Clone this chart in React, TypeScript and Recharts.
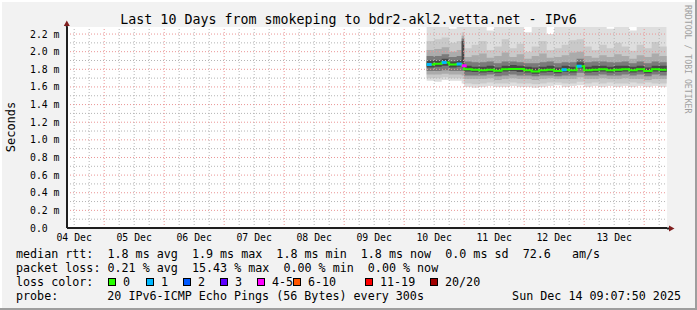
import React from "react";
import { ComposedChart, Area, Line, Scatter, XAxis, YAxis, ReferenceLine, CartesianGrid } from "recharts";

// time axis: hours since 04 Dec 00:00, window ends Sun Dec 14 09:07:50
const START_H = 9.131;
const END_H = 249.131;

const HOURS = [
  153, 156, 159, 162, 165, 167, 168, 171, 174, 177, 180, 183, 186, 189, 192, 195, 198,
  201, 204, 207, 210, 213, 216, 219, 222, 225, 228, 231, 234, 237, 240, 243, 246, 249,
];
// median rtt in ms
const MEDIAN = [
  1.855, 1.863, 1.878, 1.855, 1.86, 1.84, 1.8, 1.795, 1.79, 1.795, 1.785, 1.8, 1.805, 1.805,
  1.79, 1.775, 1.79, 1.795, 1.78, 1.795, 1.79, 1.835, 1.79, 1.795, 1.8, 1.79, 1.795, 1.8,
  1.79, 1.8, 1.78, 1.8, 1.795, 1.795,
];
// lost pings out of 20
const LOSS = [
  1, 0, 1, 0, 1, 4, 0, 0, 0, 0, 0, 0, 0, 0, 0, 0, 0, 0, 0, 1, 0, 1, 0, 0, 0, 0, 0, 0, 0, 0,
  0, 0, 0, 0,
];
// smoke: ping rtt spread per step (ms)
const P_MIN = [
  1.67, 1.66, 1.68, 1.67, 1.67, 1.64,
  1.6, 1.59, 1.6, 1.61, 1.6, 1.6, 1.61, 1.6, 1.6, 1.59, 1.6, 1.61, 1.62, 1.6, 1.61, 1.62,
  1.6, 1.61, 1.6, 1.61, 1.6, 1.61, 1.6, 1.61, 1.6, 1.61, 1.6, 1.6,
];
const P10 = [
  1.7, 1.7, 1.71, 1.7, 1.7, 1.69,
  1.64, 1.63, 1.64, 1.65, 1.64, 1.64, 1.65, 1.64, 1.64, 1.63, 1.64, 1.65, 1.65, 1.64, 1.64,
  1.66, 1.64, 1.65, 1.64, 1.65, 1.64, 1.64, 1.65, 1.64, 1.65, 1.64, 1.64, 1.64,
];
const P25 = [
  1.74, 1.74, 1.75, 1.74, 1.74, 1.73,
  1.69, 1.69, 1.69, 1.7, 1.68, 1.69, 1.7, 1.69, 1.69, 1.68, 1.69, 1.7, 1.69, 1.69, 1.69,
  1.71, 1.69, 1.69, 1.7, 1.69, 1.69, 1.7, 1.69, 1.69, 1.68, 1.69, 1.69, 1.69,
];
const P35 = [
  1.78, 1.78, 1.79, 1.78, 1.78, 1.78,
  1.73, 1.73, 1.73, 1.74, 1.72, 1.73, 1.74, 1.73, 1.73, 1.72, 1.73, 1.73, 1.72, 1.73, 1.73,
  1.76, 1.73, 1.73, 1.74, 1.73, 1.73, 1.74, 1.73, 1.74, 1.72, 1.74, 1.73, 1.73,
];
const P45 = [
  1.82, 1.83, 1.84, 1.82, 1.83, 1.82,
  1.775, 1.77, 1.765, 1.77, 1.76, 1.775, 1.78, 1.77, 1.765, 1.75, 1.765, 1.77, 1.755, 1.77,
  1.765, 1.81, 1.765, 1.77, 1.775, 1.765, 1.77, 1.775, 1.765, 1.775, 1.755, 1.775, 1.77, 1.77,
];
const P55 = [
  1.9, 1.9, 1.92, 1.89, 1.9, 2.12,
  1.84, 1.83, 1.83, 1.84, 1.82, 1.84, 1.85, 1.84, 1.83, 1.82, 1.83, 1.84, 1.82, 1.84, 1.83,
  1.88, 1.83, 1.84, 1.84, 1.83, 1.84, 1.84, 1.83, 1.84, 1.82, 1.84, 1.84, 1.84,
];
const P65 = [
  1.95, 1.95, 1.97, 1.94, 1.95, 2.15,
  1.89, 1.88, 1.88, 1.89, 1.87, 1.89, 1.89, 1.88, 1.87, 1.87, 1.88, 1.89, 1.87, 1.88, 1.88,
  1.92, 1.88, 1.89, 1.89, 1.88, 1.88, 1.89, 1.87, 1.89, 1.87, 1.89, 1.88, 1.88,
];
const P75 = [
  2.02, 2.03, 2.05, 2.0, 2.02, 2.18,
  1.94, 1.96, 1.98, 1.93, 1.95, 1.99, 1.94, 1.97, 1.92, 1.95, 1.98, 1.93, 1.94, 1.96, 1.99,
  2.0, 1.95, 1.93, 1.96, 1.94, 1.97, 1.95, 1.92, 1.96, 1.94, 1.98, 1.95, 1.95,
];
const P90 = [
  2.12, 2.14, 2.16, 2.1, 2.12, 2.22,
  2.04, 2.08, 2.12, 2.02, 2.06, 2.14, 2.04, 2.09, 2.0, 2.06, 2.12, 2.02, 2.04, 2.08, 2.13,
  2.14, 2.06, 2.02, 2.08, 2.04, 2.1, 2.06, 2.01, 2.08, 2.04, 2.11, 2.06, 2.06,
];
const P_MAX = [
  2.28, 2.28, 2.28, 2.26, 2.28, 2.28,
  2.28, 2.28, 2.28, 2.24, 2.28, 2.28, 2.28, 2.28, 2.22, 2.28, 2.28, 2.2, 2.28, 2.28, 2.28,
  2.28, 2.28, 2.28, 2.28, 2.26, 2.28, 2.28, 2.24, 2.28, 2.28, 2.28, 2.28, 2.28,
];

const DAY_TICKS = [12, 36, 60, 84, 108, 132, 156, 180, 204, 228];
const DAY_LABELS = ["04 Dec", "05 Dec", "06 Dec", "07 Dec", "08 Dec", "09 Dec", "10 Dec", "11 Dec", "12 Dec", "13 Dec"];
const Y_TICKS = [0, 0.2, 0.4, 0.6, 0.8, 1.0, 1.2, 1.4, 1.6, 1.8, 2.0, 2.2];
const Y_LABELS = ["0.0", "0.2 m", "0.4 m", "0.6 m", "0.8 m", "1.0 m", "1.2 m", "1.4 m", "1.6 m", "1.8 m", "2.0 m", "2.2 m"];
const Y_MINOR = [0.1, 0.3, 0.5, 0.7, 0.9, 1.1, 1.3, 1.5, 1.7, 1.9, 2.1];

const LOSS_KEYS = ["0", "1", "2", "3", "4-5", "6-10", "11-19", "20/20"];
const LOSS_COLORS = ["#26ff00", "#00b8ff", "#0059ff", "#5e00ff", "#ff00ff", "#ff5500", "#ff0000", "#a10000"];
const LOSS_KEY_X = [108, 146, 183, 220, 257, 293, 365, 430];

const TITLE = "Last 10 Days from smokeping to bdr2-akl2.vetta.net - IPv6";
const LEGEND_LINES = [
  "median rtt:  1.8 ms avg  1.9 ms max  1.8 ms min  1.8 ms now  0.0 ms sd  72.6   am/s",
  "packet loss: 0.21 % avg  15.43 % max  0.00 % min  0.00 % now",
];
const PROBE = "20 IPv6-ICMP Echo Pings (56 Bytes) every 300s";
const STAMP = "Sun Dec 14 09:07:50 2025";

const FONT = "'DejaVu Sans Mono', monospace";
const W = 697;
const H = 310;

const lossColor = (n: number) => {
  if (n <= 3) return LOSS_COLORS[n];
  if (n <= 5) return LOSS_COLORS[4];
  if (n <= 10) return LOSS_COLORS[5];
  if (n <= 19) return LOSS_COLORS[6];
  return LOSS_COLORS[7];
};

const rows = HOURS.map((h, i) => ({
  h,
  outer: [P_MIN[i], P_MAX[i]],
  band90: [P10[i], P90[i]],
  band75: [P25[i], P75[i]],
  core: [P35[i], P65[i]],
  inner: [P45[i], P55[i]],
  median: MEDIAN[i],
  loss: LOSS[i],
}));
const lossRows = rows.filter((r) => r.loss > 0);

// smoke shades, outermost first
const SMOKE = [
  { key: "outer", fill: "#dedede" },
  { key: "band90", fill: "#c9c9c9" },
  { key: "band75", fill: "#ababab" },
  { key: "core", fill: "#7a7a7a" },
  { key: "inner", fill: "#484848" },
];

const minorHours: number[] = [];
const majorHours: number[] = [];
for (let h = 12; h < END_H; h += 6) {
  if (h % 24 === 0) majorHours.push(h);
  else minorHours.push(h);
}

function DayTick({ x, y, payload }: any) {
  const i = DAY_TICKS.indexOf(payload.value);
  return (
    <text x={x} y={y + 12.8} textAnchor="middle" fontFamily={FONT} fontSize={9.8} fill="#000">
      {DAY_LABELS[i]}
    </text>
  );
}

function ValueTick({ y, payload }: any) {
  const i = Y_TICKS.indexOf(payload.value);
  return (
    <text x={30} y={y + 3.5} textAnchor="start" fontFamily={FONT} fontSize={9.8} fill="#000" style={{ whiteSpace: "pre" }}>
      {Y_LABELS[i]}
    </text>
  );
}

// coloured piece of the median line where pings were lost
function LossMark(props: any) {
  const { cx, cy, payload } = props;
  if (cx == null || cy == null) return <g />;
  return <rect x={cx} y={cy - 1.5} width={5} height={3} fill={lossColor(payload.loss)} />;
}

const GRID_MINOR = "#b4b4b4";
const GRID_MAJOR = "#eb9595";

export default function App() {
  return (
    <div style={{ position: "relative", width: W, height: H, background: "#f2f2f2", overflow: "hidden" }}>
      <style>{`body{margin:0}`}</style>
      <ComposedChart
        width={W}
        height={H}
        data={rows}
        margin={{ top: 27, right: 30, bottom: 0, left: 0 }}
        style={{ position: "absolute", left: 0, top: 0 }}
      >
        <CartesianGrid horizontal={false} vertical={false} fill="#fff" />
        <XAxis
          type="number"
          dataKey="h"
          domain={[START_H, END_H]}
          allowDataOverflow
          ticks={DAY_TICKS}
          interval={0}
          tick={<DayTick />}
          tickLine={false}
          tickSize={0}
          tickMargin={0}
          height={82}
          axisLine={{ stroke: "#1f1f1f", strokeWidth: 2 }}
        />
        <YAxis
          type="number"
          domain={[0, 2.28]}
          allowDataOverflow
          ticks={Y_TICKS}
          interval={0}
          tick={<ValueTick />}
          tickLine={false}
          tickSize={0}
          tickMargin={0}
          width={67}
          axisLine={{ stroke: "#1f1f1f", strokeWidth: 2 }}
        />
        {SMOKE.map((s) => (
          <Area
            key={s.key}
            type="stepAfter"
            dataKey={s.key}
            stroke="none"
            fill={s.fill}
            fillOpacity={1}
            isAnimationActive={false}
          />
        ))}
        {Y_MINOR.map((v) => (
          <ReferenceLine key={`ym${v}`} y={v} stroke={GRID_MINOR} strokeDasharray="1 2" />
        ))}
        {minorHours.map((h) => (
          <ReferenceLine key={`xm${h}`} x={h} stroke={GRID_MINOR} strokeDasharray="1 2" />
        ))}
        {Y_TICKS.slice(1).map((v) => (
          <ReferenceLine key={`yM${v}`} y={v} stroke={GRID_MAJOR} strokeDasharray="1 2" />
        ))}
        {majorHours.map((h) => (
          <ReferenceLine key={`xM${h}`} x={h} stroke={GRID_MAJOR} strokeDasharray="1 2" />
        ))}
        <Line
          type="stepAfter"
          dataKey="median"
          stroke={LOSS_COLORS[0]}
          strokeWidth={2}
          dot={false}
          activeDot={false}
          isAnimationActive={false}
          zIndex={1500}
        />
        <Scatter
          data={lossRows}
          dataKey="median"
          shape={<LossMark />}
          isAnimationActive={false}
          zIndex={1600}
        />
      </ComposedChart>

      <svg width={W} height={H} style={{ position: "absolute", left: 0, top: 0, pointerEvents: "none" }}>
        {/* 3d frame */}
        <rect x={0} y={0} width={W} height={2} fill="#fff" />
        <rect x={0} y={0} width={2} height={H} fill="#fff" />
        <rect x={0} y={H - 2} width={W} height={2} fill="#9e9e9e" />
        <rect x={W - 2} y={0} width={2} height={H} fill="#9e9e9e" />

        <text x={W / 2} y={24} textAnchor="middle" fontFamily={FONT} fontSize={13.3} fill="#000">
          {TITLE}
        </text>
        <text x={15} y={127} transform="rotate(-90 15 127)" textAnchor="middle" fontFamily={FONT} fontSize={12} fill="#000">
          Seconds
        </text>
        <text x={684.5} y={5} transform="rotate(90 684.5 5)" fontFamily={FONT} fontSize={8.2} fill="#a0a0a0">
          RRDTOOL / TOBI OETIKER
        </text>

        {/* axis arrows */}
        <line x1={66.8} y1={27} x2={66.8} y2={24} stroke="#1f1f1f" strokeWidth={2} />
        <polygon points="66.8,20.5 63.8,26 69.8,26" fill="#801f1f" />
        <line x1={667} y1={228.5} x2={670} y2={228.5} stroke="#1f1f1f" strokeWidth={2} />
        <polygon points="674.5,228.5 669,225.5 669,231.5" fill="#801f1f" />

        {LEGEND_LINES.map((s, i) => (
          <text key={s} x={16} y={258 + i * 14} fontFamily={FONT} fontSize={11.7} fill="#000" xmlSpace="preserve" style={{ whiteSpace: "pre" }}>
            {s}
          </text>
        ))}
        <text x={16} y={286} fontFamily={FONT} fontSize={11.7} fill="#000">
          loss color:
        </text>
        {LOSS_KEYS.map((k, i) => (
          <g key={k}>
            <rect x={LOSS_KEY_X[i] + 0.5} y={278.5} width={7} height={7} fill={LOSS_COLORS[i]} stroke="#000" strokeWidth={1} />
            <text x={LOSS_KEY_X[i] + 15} y={286} fontFamily={FONT} fontSize={11.7} fill="#000">
              {k}
            </text>
          </g>
        ))}
        <text x={16} y={300} fontFamily={FONT} fontSize={11.7} fill="#000">
          probe:
        </text>
        <text x={107.3} y={300} fontFamily={FONT} fontSize={11.7} fill="#000">
          {PROBE}
        </text>
        <text x={681} y={300} textAnchor="end" fontFamily={FONT} fontSize={11.7} fill="#000">
          {STAMP}
        </text>
      </svg>
    </div>
  );
}
